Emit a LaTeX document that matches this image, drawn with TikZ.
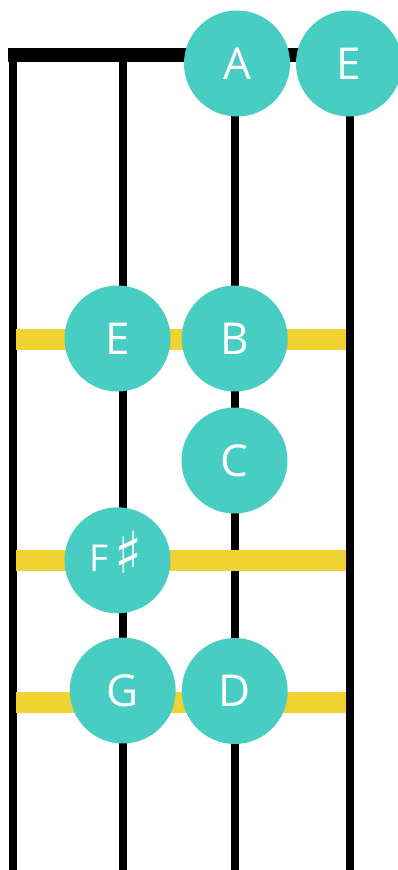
\documentclass[tikz,border=0pt]{standalone}
\usepackage{fontspec}
\setmainfont{Open Sans}
\newfontfamily\symfont{DejaVu Sans}
\definecolor{noteteal}{RGB}{72,205,195}
\definecolor{fretyellow}{RGB}{240,210,50}
\begin{document}
\begin{tikzpicture}[x=1pt,y=-1pt,
  stringline/.style={line width=8pt,black},
  nutline/.style={line width=14pt,black},
  fretline/.style={line width=21pt,fretyellow},
  note/.style={circle,fill=noteteal,minimum size=106pt,inner sep=0pt,text=white,font=\fontsize{44}{50}\selectfont}]
\useasboundingbox (0,0) rectangle (398,870);
% strings
\coordinate (s1t) at (13,55);  \coordinate (s1b) at (13,870);
\coordinate (s2t) at (123,55); \coordinate (s2b) at (123,870);
\coordinate (s3t) at (235,55); \coordinate (s3b) at (235,870);
\coordinate (s4t) at (349.5,55); \coordinate (s4b) at (349.5,870);
\draw[stringline] (s1t) -- (s1b);
\draw[stringline] (s2t) -- (s2b);
\draw[stringline] (s3t) -- (s3b);
\draw[stringline] (s4t) -- (s4b);
% nut
\coordinate (nutL) at (8,55); \coordinate (nutR) at (353,55);
\draw[nutline] (nutL) -- (nutR);
% frets
\coordinate (f1l) at (16,339);   \coordinate (f1r) at (346,339);
\coordinate (f2l) at (16,560.5); \coordinate (f2r) at (346,560.5);
\coordinate (f3l) at (16,702);   \coordinate (f3r) at (346,702);
\draw[fretline] (f1l) -- (f1r);
\draw[fretline] (f2l) -- (f2r);
\draw[fretline] (f3l) -- (f3r);
% notes
\node[note] (nA) at (237,63.5) {A};
\node[note] (nE1) at (349,63.5) {E};
\node[note] (nE2) at (117.5,338.5) {E};
\node[note] (nB) at (234.7,338.5) {B};
\node[note] (nC) at (234.5,460.5) {C};
\node[note,font=\fontsize{37}{40}\selectfont] (nFs) at (117.5,560.3) {};
\node[text=white,font=\fontsize{37}{40}\selectfont,inner sep=0pt,anchor=base] (nFsLabel) at (116,571) {F\hspace{5pt}\raisebox{-2pt}{\symfont\fontsize{58}{60}\selectfont ♯}};
\node[note] (nG) at (122.7,690.5) {G};
\node[note] (nD) at (234.7,691) {D};
\end{tikzpicture}
\end{document}
